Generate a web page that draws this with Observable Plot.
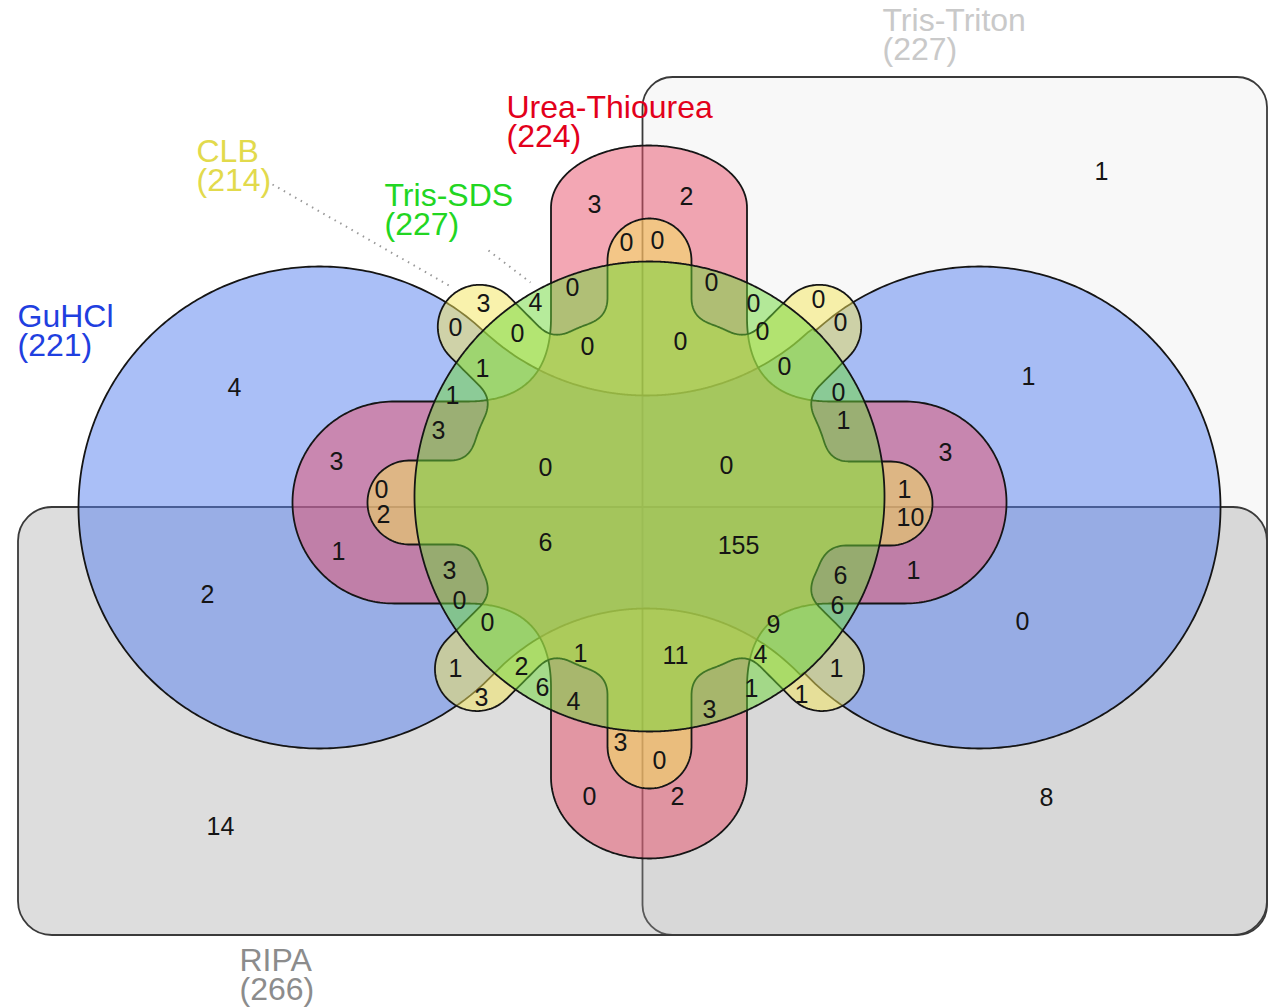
<!DOCTYPE html>
<html>
<head>
<meta charset="utf-8">
<script src="https://cdn.jsdelivr.net/npm/d3@7"></script>
<script src="https://cdn.jsdelivr.net/npm/@observablehq/plot@0.6"></script>
<style>
  html, body { margin: 0; padding: 0; background: #fff; }
  #chart svg { display: block; }
</style>
</head>
<body>
<div id="chart"></div>
<script>
// ---- Data: six extraction buffers and their 63 intersection counts ----
const setNames = ["GuHCl", "Urea-Thiourea", "CLB", "Tris-SDS", "Tris-Triton", "RIPA"];
const setSizes = [221, 224, 214, 227, 227, 266];
const setColors = ["#1f3fe0", "#e3001b", "#e2da4c", "#22d622", "#c9c9c9", "#8c8c8c"];

// Region counts, read row by row across the diagram
const regionCounts = [
  1, 3, 2, 0, 0, 3, 4, 0, 0, 0, 0, 0, 0, 0, 0, 0, 0, 1, 0, 4, 1,
  1, 0, 3, 1, 3, 3, 0, 0, 0, 2, 1, 10, 6, 155, 1, 1, 3, 6, 2, 0,
  6, 0, 0, 9, 1, 11, 4, 1, 1, 2, 6, 4, 3, 1, 1, 3, 3, 0, 0, 2, 8, 14
];

// ---- Layout (pixel space of the drawing) ----
const W = 1268, H = 1007;
const regionAnchors = [
  [1101,171],[594,204],[686,196],[626,242],[657,240],[483,303],[535,302],[572,287],[711,282],[753,303],
  [818,299],[455,327],[517,333],[587,346],[680,341],[762,331],[840,322],[482,368],[784,366],[234,387],
  [1028,376],[452,395],[838,392],[438,430],[843,420],[336,461],[945,452],[545,467],[726,465],[381,489],
  [383,514],[904,489],[910,517],[545,542],[738,545],[338,551],[913,570],[449,570],[840,575],[207,594],
  [459,600],[837,605],[487,622],[1022,621],[773,624],[580,653],[675,655],[760,654],[455,668],[836,668],
  [521,666],[542,687],[573,701],[481,697],[751,688],[801,694],[709,709],[620,742],[659,760],[589,796],
  [677,796],[1046,797],[220,826]
];
// label block: left x, vertical centre of the two-line block
const labelAnchors = [[17,332],[506,122.5],[196,166.5],[384,210.5],[882,36],[239,976]];
const leaders = [
  {x1: 272, y1: 184, x2: 452, y2: 287},
  {x1: 488, y1: 250, x2: 530, y2: 282}
];

// Edwards-style construction around a central hub
const hub = [649, 496], hubR = 235;
const halfPlaneRight = {x1: 642.5, x2: 1267, y1: 77, y2: 935};
const halfPlaneBottom = {x1: 18, x2: 1267, y1: 507, y2: 935};
const blueLobes = [[319, 507, 241], [979, 507, 241]];
const blueCuts = [[646, 157, 238], [646, 819, 211]];
// vertical red bar: top cap (y, height), bottom cap (y, height), centre x, half width
const redVertical = {x: 648.5, top: 207, topCap: 62, bottom: 777, bottomCap: 81, half: 98};
const redHorizontal = [393, 502, 905, 502, 101];
const yellowTeeth = [ // angle (deg, screen), arm length, sideways shift of the arm
  [-90, 236, 0], [-45, 240, 0], [0, 241, 7], [45, 244, 0], [90, 250, 0], [135, 244, 0], [180, 240, -6], [225, 240, 0]
];
const toothHalf = 42, yellowCore = 183;

// ---- signed-distance helpers ----
const sdCircle = (x, y, cx, cy, r) => Math.hypot(x - cx, y - cy) - r;
function sdCapsule(px, py, ax, ay, bx, by, r) {
  const pax = px - ax, pay = py - ay, bax = bx - ax, bay = by - ay;
  const h = Math.max(0, Math.min(1, (pax * bax + pay * bay) / (bax * bax + bay * bay)));
  return Math.hypot(pax - bax * h, pay - bay * h) - r;
}
function smin(a, b, k) {
  const h = Math.max(k - Math.abs(a - b), 0) / k;
  return Math.min(a, b) - h * h * k * 0.25;
}

const sdBlue = (x, y) => {
  let d = sdCircle(x, y, hub[0], hub[1], hubR - 1);
  for (const [cx, cy, r] of blueLobes) d = Math.min(d, sdCircle(x, y, cx, cy, r));
  for (const [cx, cy, r] of blueCuts) d = Math.max(d, -sdCircle(x, y, cx, cy, r));
  return d;
};
const sdRed = (x, y) => {
  const v = redVertical;
  // flatten the end caps of the vertical bar into half-ellipses
  let yy = y;
  if (y < v.top) yy = v.top - (v.top - y) * (v.half / v.topCap);
  else if (y > v.bottom) yy = v.bottom + (y - v.bottom) * (v.half / v.bottomCap);
  const a = sdCapsule(x, yy, v.x, v.top, v.x, v.bottom, v.half);
  const b = sdCapsule(x, y, ...redHorizontal);
  return smin(a, b, 84);
};
const sdYellow = (x, y) => {
  let d = sdCircle(x, y, hub[0], hub[1], yellowCore);
  for (const [ang, len, shift] of yellowTeeth) {
    const t = ang * Math.PI / 180, c = Math.cos(t), s = Math.sin(t);
    const ax = hub[0] + shift * -s, ay = hub[1] + shift * c;
    d = smin(d, sdCapsule(x, y, ax, ay, ax + len * c, ay + len * s, toothHalf), 20);
  }
  return d;
};
const sdGreen = (x, y) => sdCircle(x, y, hub[0], hub[1], hubR);

// outline of a shape that is star-shaped about the hub
function outline(sdf, n = 1440) {
  const pts = [];
  for (let i = 0; i < n; i++) {
    const a = (2 * Math.PI * i) / n, dx = Math.cos(a), dy = Math.sin(a);
    let lo = 0, hi = 0;
    while (hi < 900 && sdf(hub[0] + dx * hi, hub[1] + dy * hi) < 0) { lo = hi; hi += 2; }
    for (let k = 0; k < 22; k++) {
      const m = (lo + hi) / 2;
      if (sdf(hub[0] + dx * m, hub[1] + dy * m) < 0) lo = m; else hi = m;
    }
    pts.push({x: hub[0] + dx * lo, y: hub[1] + dy * lo});
  }
  return pts;
}

const shapes = [
  {pts: outline(sdBlue), fill: "#5580f0"},
  {pts: outline(sdRed), fill: "#e8506a"},
  {pts: outline(sdYellow), fill: "#f4e65a"},
  {pts: outline(sdGreen), fill: "#6ed737"}
];

const regions = regionCounts.map((v, i) => ({x: regionAnchors[i][0], y: regionAnchors[i][1], v}));
const labels = setNames.map((name, i) => ({
  x: labelAnchors[i][0], y: labelAnchors[i][1], text: `${name}\n(${setSizes[i]})`, color: setColors[i]
}));

const chart = Plot.plot({
  width: W,
  height: H,
  margin: 0,
  x: {domain: [0, W], range: [0, W], axis: null},
  y: {domain: [0, H], range: [0, H], axis: null},
  style: {fontFamily: "'Liberation Sans', Arial, sans-serif", background: "#fff"},
  marks: [
    Plot.rect([halfPlaneRight], {x1: "x1", x2: "x2", y1: "y1", y2: "y2", rx: 30, fill: "#f8f8f8", stroke: "#3a3a3a", strokeWidth: 1.8}),
    Plot.rect([halfPlaneBottom], {x1: "x1", x2: "x2", y1: "y1", y2: "y2", rx: 34, fill: "#999", fillOpacity: 0.33, stroke: "#3a3a3a", strokeWidth: 1.8}),
    ...shapes.map(s => Plot.line(s.pts, {
      x: "x", y: "y", curve: "linear-closed",
      fill: s.fill, fillOpacity: 0.5, stroke: "#151515", strokeWidth: 1.8
    })),
    Plot.link(leaders, {x1: "x1", y1: "y1", x2: "x2", y2: "y2", stroke: "#999", strokeWidth: 2, strokeDasharray: "1.5,5"}),
    Plot.text(regions, {x: "x", y: "y", text: "v", fontSize: 25, fill: "#151515"}),
    Plot.text(labels, {x: "x", y: "y", text: "text", fill: "color", fontSize: 32, textAnchor: "start", lineHeight: 0.91})
  ]
});
document.getElementById("chart").appendChild(chart);
</script>
</body>
</html>
